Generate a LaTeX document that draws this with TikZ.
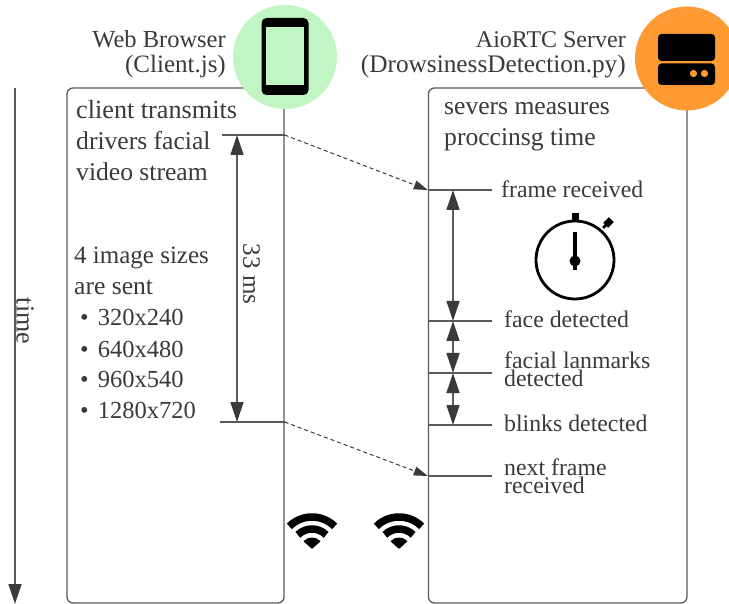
\documentclass[tikz,border=0pt]{standalone}
\usepackage{fontspec}
\setmainfont{Liberation Serif}
\usetikzlibrary{arrows.meta,positioning}
\definecolor{ink}{HTML}{3A3A3A}
\definecolor{edgegray}{HTML}{5A5A5A}
\definecolor{phonegreen}{HTML}{C1F5C4}
\definecolor{serverorange}{HTML}{FF9A33}
\tikzset{
  panel/.style={draw=edgegray,line width=1.3pt,rounded corners=6pt,fill=white,inner sep=0pt},
  big/.style={font=\fontsize{25.6}{28}\selectfont,text=ink,anchor=base west,inner sep=0pt},
  small/.style={font=\fontsize{23.8}{26}\selectfont,text=ink,anchor=base west,inner sep=0pt},
  sizes/.style={font=\fontsize{24.5}{26}\selectfont,text=ink,anchor=base west,inner sep=0pt},
  title/.style={font=\fontsize{24.5}{26}\selectfont,text=ink,anchor=base east,inner sep=0pt},
  tick/.style={draw=edgegray,line width=1.3pt},
  span/.style={draw=edgegray,line width=1.3pt,{Triangle[length=20pt,width=13pt,color=ink]}-{Triangle[length=20pt,width=13pt,color=ink]}},
  link/.style={draw=ink,line width=1pt,dash pattern=on 4pt off 3pt,-{Triangle[length=14pt,width=9pt,color=ink]}},
  badge/.style={circle,inner sep=0pt,minimum size=104pt}
}
\newcommand{\wifisign}[1]{%
  \begin{scope}[shift={(#1,549)},y=1pt,line join=round]
    \fill[black,draw=black,line width=1pt] (0,0.8) -- (135:11pt) arc[start angle=135,end angle=45,radius=11pt] -- cycle;
    \draw[black,line width=7.5pt] (135:20pt) arc[start angle=135,end angle=45,radius=20pt];
    \draw[black,line width=7.5pt] (135:32pt) arc[start angle=135,end angle=45,radius=32pt];
  \end{scope}}
\begin{document}
\begin{tikzpicture}[x=1pt,y=-1pt]
\useasboundingbox (0,0) rectangle (729,604);
\clip (0,0) rectangle (729,604);
% panels
\node[panel,minimum width=217pt,minimum height=515pt] (client) at (175.5,345.5) {};
\node[panel,minimum width=258.5pt,minimum height=515pt] (server) at (557.7,345.5) {};
% badges
\node[badge,fill=phonegreen] (phonebadge) at (285,57) {};
\node[badge,fill=serverorange] (serverbadge) at (687,58.5) {};
% phone icon
\fill[black,rounded corners=5pt] (261.5,18) rectangle (308.5,95);
\fill[phonegreen] (265.5,27.5) rectangle (304,85);
% server icon
\fill[black,rounded corners=3.5pt] (658,34) rectangle (715,61);
\fill[black,rounded corners=3.5pt] (658,63.5) rectangle (715,85);
\fill[serverorange] (693.5,73.5) circle[radius=3.6pt] (704.5,73.5) circle[radius=3.6pt];
% titles
\node[title] (t1) at (226,48) {Web Browser};
\node[title,font=\fontsize{25}{26}\selectfont] (t2) at (226,73) {(Client.js)};
\node[title,font=\fontsize{24}{26}\selectfont] (t3) at (626,48) {AioRTC Server};
\node[title,font=\fontsize{25.3}{26}\selectfont] (t4) at (626,73) {(DrowsinessDetection.py)};
% time axis
\coordinate (timetop) at (15,88);
\coordinate (timeend) at (15,604);
\draw[edgegray,line width=1.3pt,-{Triangle[length=20pt,width=13pt,color=ink]}] (timetop) -- (timeend);
\node[font=\fontsize{26}{28}\selectfont,text=ink,rotate=-90,inner sep=0pt] (timelabel) at (25,321) {time};
% client text
\node[big,font=\fontsize{26.2}{28}\selectfont] (c1) at (76,119) {client transmits};
\node[big] (c2) at (76,150) {drivers facial};
\node[big] (c3) at (76,181) {video stream};
\node[big,font=\fontsize{25}{28}\selectfont] (c4) at (74,264) {4 image sizes};
\node[big] (c5) at (74,295) {are sent};
\node[sizes] (s1) at (80,326) {•\hspace{9pt}320x240};
\node[sizes] (s2) at (80,357) {•\hspace{9pt}640x480};
\node[sizes] (s3) at (80,388) {•\hspace{9pt}960x540};
\node[sizes] (s4) at (80,418) {•\hspace{9pt}1280x720};
% client ticks
\coordinate (a1) at (222,135);
\coordinate (a2) at (client.east |- a1);
\coordinate (b1) at (220,422);
\coordinate (b2) at (client.east |- b1);
\draw[tick] (a1) -- (a2);
\draw[tick] (b1) -- (b2);
\coordinate (m1) at (237,135);
\coordinate (m2) at (237,422);
\draw[span] (m1) -- (m2);
\node[font=\fontsize{25}{27}\selectfont,text=ink,rotate=-90,inner sep=0pt] (ms) at (251.5,274) {33 ms};
% server text
\node[big] (v1) at (444,115) {severs measures};
\node[big] (v2) at (444,146) {proccinsg time};
\node[small] (f1) at (501,198) {frame received};
\node[small] (f2) at (504,328) {face detected};
\node[small] (f3) at (504,368) {facial lanmarks};
\node[small] (f4) at (504,386) {detected};
\node[small] (f5) at (504,431) {blinks detected};
\node[small] (f6) at (504,475) {next frame};
\node[small] (f7) at (504,493) {received};
% server ticks
\foreach \n/\yy in {r1/190,r2/321,r3/373,r4/425,r5/476}{
  \coordinate (\n) at (server.west |- 0,\yy);
  \coordinate (\n e) at (492,\yy);
  \coordinate (\n m) at (453,\yy);
  \draw[tick] (\n) -- (\n e);
}
\draw[span] (r1m) -- (r2m);
\draw[span] (r2m) -- (r3m);
\draw[span] (r3m) -- (r4m);
% dashed links
\draw[link] (a2) -- (r1);
\draw[link] (b2) -- (r5);
% stopwatch
\draw[black,line width=2.8pt] (575,260) circle[radius=39pt];
\fill[black] (571.5,213) rectangle (578.5,222);
\draw[black,line width=3.2pt] (575,232) -- (575,270);
\fill[black] (575,261) circle[radius=5.5pt];
\fill[black,rotate around={45:(608.5,222.5)}] (604.5,219) rectangle (612.5,226);
\draw[black,line width=2.5pt] (603,228) -- (606,225);
% wifi
\wifisign{312}
\wifisign{399}
\end{tikzpicture}
\end{document}
